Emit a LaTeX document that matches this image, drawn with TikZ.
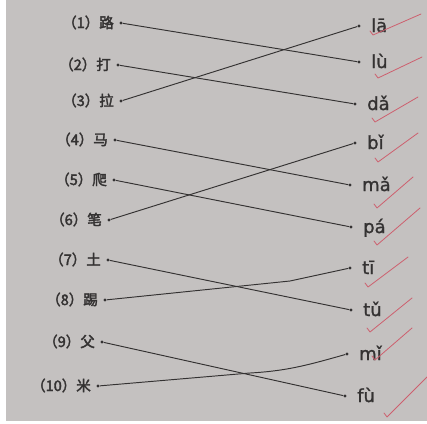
\documentclass[tikz,border=0pt]{standalone}
\usepackage{fontspec}
\usetikzlibrary{calc}
\newfontfamily\cjk{Noto Sans CJK SC}[FakeBold=2.5]
\newfontfamily\py{DejaVu Sans}[FakeBold=1.2]
\definecolor{paper}{RGB}{196,193,192}
\definecolor{ink}{RGB}{52,50,50}
\definecolor{tick}{RGB}{205,95,110}
\begin{document}
\begin{tikzpicture}[x=1pt,y=-1pt,
  dot/.style={circle,fill=ink,inner sep=0pt,minimum size=3.2pt},
  lab/.style={anchor=base east,font=\cjk\fontsize{14.5}{14.5}\selectfont,text=ink,inner sep=0pt},
  pin/.style={anchor=base west,font=\py\fontsize{18}{18}\selectfont,text=ink,inner sep=0pt},
  link/.style={draw=ink,line width=0.95pt},
  chk/.style={draw=tick,line width=0.8pt,line cap=round,line join=round}]
\useasboundingbox (0,0) rectangle (427,423);
\fill[white] (0,0) rectangle (427,423);
\fill[paper] (6,0) rectangle (427,421);
% left dots
\node[dot] (l1) at (121,23) {};
\node[dot] (l2) at (118,65) {};
\node[dot] (l3) at (121,101) {};
\node[dot] (l4) at (115,140) {};
\node[dot] (l5) at (114,180) {};
\node[dot] (l6) at (109,220) {};
\node[dot] (l7) at (108,260) {};
\node[dot] (l8) at (105,300) {};
\node[dot] (l9) at (102,342) {};
\node[dot] (l10) at (98,386) {};
% right dots
\node[dot] (r1) at (359,26) {};
\node[dot] (r2) at (359,62) {};
\node[dot] (r3) at (355,104) {};
\node[dot] (r4) at (355,143) {};
\node[dot] (r5) at (350,185) {};
\node[dot] (r6) at (351,227) {};
\node[dot] (r7) at (350,268) {};
\node[dot] (r8) at (351,310) {};
\node[dot] (r9) at (347,354) {};
\node[dot] (r10) at (345,396) {};
% left labels
\node[lab] (t1) at ($(l1)+(-7,5)$) {（1）路};
\node[lab] (t2) at ($(l2)+(-7,5)$) {（2）打};
\node[lab] (t3) at ($(l3)+(-7,5)$) {（3）拉};
\node[lab] (t4) at ($(l4)+(-7,5)$) {（4）马};
\node[lab] (t5) at ($(l5)+(-7,5)$) {（5）爬};
\node[lab] (t6) at ($(l6)+(-7,5)$) {（6）笔};
\node[lab] (t7) at ($(l7)+(-7,5)$) {（7）土};
\node[lab] (t8) at ($(l8)+(-7,5)$) {（8）踢};
\node[lab] (t9) at ($(l9)+(-7,5)$) {（9）父};
\node[lab] (t10) at ($(l10)+(-7,5)$) {（10）米};
% pinyin
\node[pin] (p1) at ($(r1)+(12,6)$) {lā};
\node[pin] (p2) at ($(r2)+(12,6)$) {lù};
\node[pin] (p3) at ($(r3)+(12,6)$) {dǎ};
\node[pin] (p4) at ($(r4)+(12,6)$) {bǐ};
\node[pin] (p5) at ($(r5)+(12,6)$) {mǎ};
\node[pin] (p6) at ($(r6)+(12,6)$) {pá};
\node[pin] (p7) at ($(r7)+(12,6)$) {tī};
\node[pin] (p8) at ($(r8)+(12,6)$) {tǔ};
\node[pin] (p9) at ($(r9)+(12,6)$) {mǐ};
\node[pin] (p10) at ($(r10)+(12,6)$) {fù};
% connectors
\coordinate (b8) at (290,281);
\coordinate (b10) at (250,373);
\coordinate (c10a) at (285,371);
\coordinate (c10b) at (305,366);
\draw[link] (l1) -- (r2);
\draw[link] (l2) -- (r3);
\draw[link] (l3) -- (r1);
\draw[link] (l4) -- (r5);
\draw[link] (l5) -- (r6);
\draw[link] (l6) -- (r4);
\draw[link] (l7) -- (r8);
\draw[link] (l8) -- (b8) -- (r7);
\draw[link] (l9) -- (r10);
\draw[link] (l10) -- (b10) .. controls (c10a) and (c10b) .. (r9);
% red check marks
\draw[chk] (370,31) -- (373,35) -- (421,14);
\draw[chk] (375,74) -- (378,78) -- (422,57);
\draw[chk] (372,118) -- (375,122) -- (418,97);
\draw[chk] (375,158) -- (378,162) -- (418,133);
\draw[chk] (374,204) -- (377,208) -- (413,177);
\draw[chk] (374,241) -- (377,245) -- (420,208);
\draw[chk] (365,283) -- (368,287) -- (408,257);
\draw[chk] (367,328) -- (370,332) -- (412,298);
\draw[chk] (372,356) -- (375,360) -- (412,328);
\draw[chk] (384,413) -- (387,417) -- (427,377);
\end{tikzpicture}
\end{document}
